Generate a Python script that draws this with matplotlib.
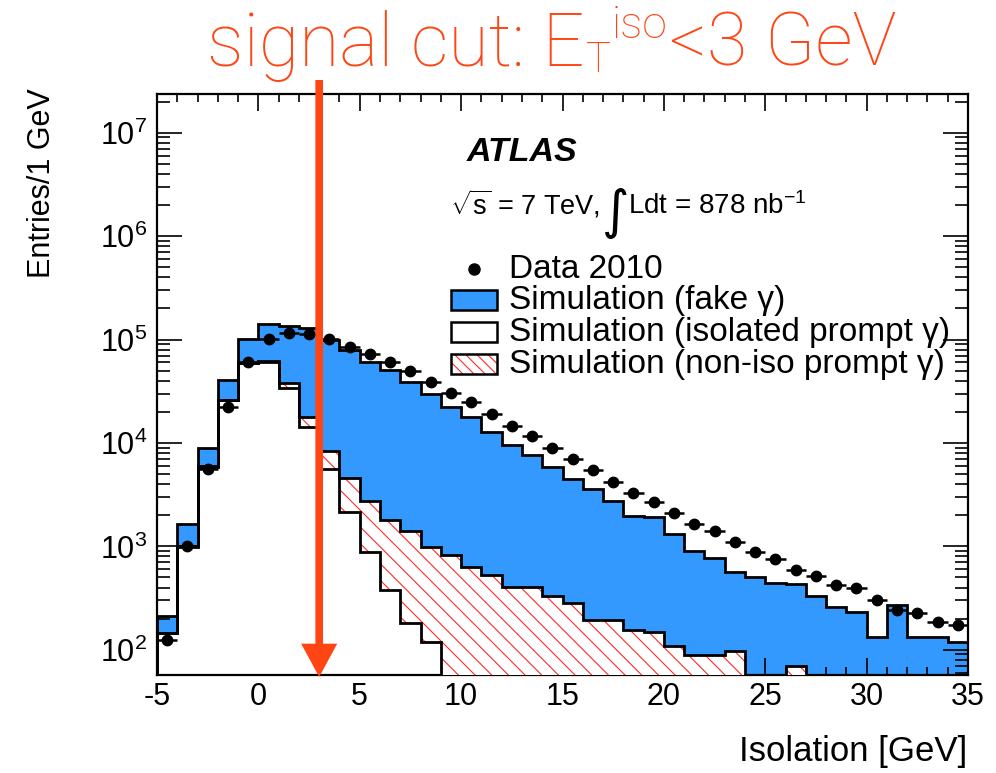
import numpy as np
import matplotlib
matplotlib.use('Agg')
import matplotlib.pyplot as plt
from matplotlib.patches import Rectangle
from matplotlib.ticker import LogLocator, MultipleLocator, NullFormatter

plt.rcParams['font.family'] = ['Liberation Sans', 'DejaVu Sans']
plt.rcParams['mathtext.fontset'] = 'custom'
plt.rcParams['mathtext.rm'] = 'Liberation Sans'
plt.rcParams['mathtext.it'] = 'Liberation Sans:italic'
plt.rcParams['mathtext.bf'] = 'Liberation Sans:bold'
plt.rcParams['axes.unicode_minus'] = False
plt.rcParams['hatch.linewidth'] = 0.8
plt.rcParams['hatch.color'] = '#ff2a2a'

# ---------------- data (bins of 1 GeV from -5 to 35) ----------------
bin_edges = np.arange(-5, 36, 1)
iso_prompt = [145, 995, 5900, 26000, 59000, 61000, 34000, 14400, 5570, 2170, 880, 380, 181, 118,
              0, 0, 0, 0, 0, 0, 0, 0, 0, 0, 0, 0, 0, 0, 0,
              0, 0, 0, 0, 0, 0, 0, 0, 0, 0, 0]
noniso_prompt = [0, 5, 30, 150, 600, 1000, 4000, 3300, 2860, 2420, 1870, 1420, 1230, 877,
                 828, 638, 530, 409, 409, 333, 283, 195, 195, 156, 150, 108, 89, 89, 98,
                 0, 0, 69, 0, 0, 0, 0, 0, 0, 0, 0]
fake = [65, 650, 3090, 14450, 41400, 78000, 97000, 111300, 90500, 74600, 58350, 48900, 37700, 28700,
        21570, 17060, 12270, 9160, 7250, 5490, 4180, 3375, 2575, 1814, 1790, 1212, 817, 691, 473,
        511, 447, 365, 333, 259, 231, 134, 272, 134, 134, 118]
data_2010 = [125, 1010, 5570, 22400, 61100, 100500, 116000, 112000, 100500, 85100, 72400, 61100, 49700, 39100,
             30600, 24700, 19100, 14700, 11700, 9020, 7000, 5480, 4230, 3310, 2710, 2120, 1650, 1410, 1100,
             891, 752, 593, 519, 425, 394, 304, 240, 229, 184, 175]
legend_labels = ['Data 2010', 'Simulation (fake \u03b3)',
                 'Simulation (isolated prompt \u03b3)', 'Simulation (non-iso prompt \u03b3)']
cut_value = 3

W, H = 996, 773
BLUE = '#3399ff'
ORANGE = '#ff4514'
HATCH_RED = '#ff2a2a'

def fx(px):
    return px / W

def fy(py):
    return 1 - py / H

fig = plt.figure(figsize=(W / 100, H / 100), dpi=100)
ax = fig.add_axes([fx(157), fy(675), (968 - 157) / W, (675 - 94) / H])
ax.set_yscale('log')
ax.set_xlim(-5, 35)
ax.set_ylim(57, 2.37e7)

iso = np.array(iso_prompt, float)
non = np.array(noniso_prompt, float)
fk = np.array(fake, float)
floor = 1.0
c1 = np.clip(iso, floor, None)
c2 = np.clip(iso + non, floor, None)
c3 = np.clip(iso + non + fk, floor, None)

ax.stairs(c3, bin_edges, baseline=floor, fill=True, facecolor=BLUE, edgecolor='none', lw=0, zorder=1)
ax.stairs(c2, bin_edges, baseline=floor, fill=True, facecolor='white', edgecolor='none', lw=0, zorder=2)
ax.stairs(c2, bin_edges, baseline=c1, fill=True, facecolor='white', edgecolor=HATCH_RED,
          hatch='\\\\', lw=0, zorder=3)
for arr in (c3, c2, c1):
    ax.stairs(arr, bin_edges, baseline=floor, fill=False, color='black', lw=2.0, zorder=4)

centers = 0.5 * (bin_edges[:-1] + bin_edges[1:])
ax.errorbar(centers, data_2010, xerr=0.5, fmt='o', color='black', ms=7.5, elinewidth=1.8,
            capsize=0, zorder=5)

# ticks
ax.xaxis.set_major_locator(MultipleLocator(5))
ax.xaxis.set_minor_locator(MultipleLocator(1))
ax.yaxis.set_major_locator(LogLocator(base=10, numticks=20))
ax.yaxis.set_minor_locator(LogLocator(base=10, subs=np.arange(2, 10), numticks=20))
ax.yaxis.set_minor_formatter(NullFormatter())
ax.tick_params(which='both', direction='in', top=True, right=True, width=1.2, labelsize=22)
ax.tick_params(axis='x', which='major', length=12, pad=5)
ax.tick_params(axis='x', which='minor', length=6)
ax.tick_params(axis='y', which='major', length=18, pad=7)
ax.tick_params(axis='y', which='minor', length=9.5)
for s in ax.spines.values():
    s.set_linewidth(1.6)

# axis titles
fig.text(fx(42), fy(88), 'Entries/1 GeV', rotation=90, ha='center', va='top', fontsize=22)
fig.text(fx(967), fy(752), 'Isolation [GeV]', ha='right', va='center', fontsize=25)

# overlay axes in pixel coordinates for annotations
ov = fig.add_axes([0, 0, 1, 1], facecolor='none')
ov.set_xlim(0, W)
ov.set_ylim(H, 0)
ov.axis('off')

fig.canvas.draw()
rend = fig.canvas.get_renderer()

# ATLAS label
ov.text(467, 161, 'ATLAS', fontsize=24.5, fontweight='bold', fontstyle='italic', va='baseline')
l1 = ov.text(450, 214, r'$\sqrt{\mathrm{s}}$ = 7 TeV,', fontsize=19.5, va='baseline')
x_int = l1.get_window_extent(rend).x1 + 2
l2 = ov.text(x_int, 228, '\u222b', fontsize=38, va='baseline', family=['DejaVu Sans'])
x_l = l2.get_window_extent(rend).x1 - 1
ov.text(x_l, 214, r'Ldt = 878 nb$^{\mathregular{-1}}$', fontsize=20, va='baseline')

# manual legend
rows = [269, 300, 332, 364]
bx0, bx1, bh = 451, 497, 20
ov.plot([474], [rows[0]], 'o', color='black', ms=8)
ov.add_patch(Rectangle((bx0, rows[1] - bh / 2), bx1 - bx0, bh, facecolor=BLUE, edgecolor='black', lw=1.8))
ov.add_patch(Rectangle((bx0, rows[2] - bh / 2), bx1 - bx0, bh, facecolor='white', edgecolor='black', lw=1.8))
ov.add_patch(Rectangle((bx0, rows[3] - bh / 2), bx1 - bx0, bh, facecolor='white', edgecolor=HATCH_RED,
                       hatch='\\\\\\', lw=0))
ov.add_patch(Rectangle((bx0, rows[3] - bh / 2), bx1 - bx0, bh, facecolor='none', edgecolor='black', lw=1.8))
for r, lab in zip(rows, legend_labels):
    ov.text(509, r + 1, lab, fontsize=24, va='center', ha='left')

# cut arrow
x_cut = 157 + (cut_value + 5) * (811 / 40)
ov.annotate('', xy=(x_cut, 677), xytext=(x_cut, 80),
            arrowprops=dict(width=5.5, headwidth=26, headlength=24, shrink=0, color=ORANGE, lw=0),
            annotation_clip=False, zorder=10)

# title (manual pieces)
tfam = ['Roboto', 'DejaVu Sans']
kw = dict(color=ORANGE, family=tfam, fontweight='light', va='baseline', ha='left')
t1 = ov.text(207, 65, 'signal cut: E', fontsize=53, **kw)
xe = t1.get_window_extent(rend).x1
t2 = ov.text(xe + 1, 72, 'T', fontsize=30, **kw)
xt = t2.get_window_extent(rend).x1
t3 = ov.text(xt + 1, 38, 'iso', fontsize=32, **kw)
xi = t3.get_window_extent(rend).x1
ov.text(xi + 2, 65, '<3 GeV', fontsize=53, **kw)

fig.savefig('out.png', dpi=100)
